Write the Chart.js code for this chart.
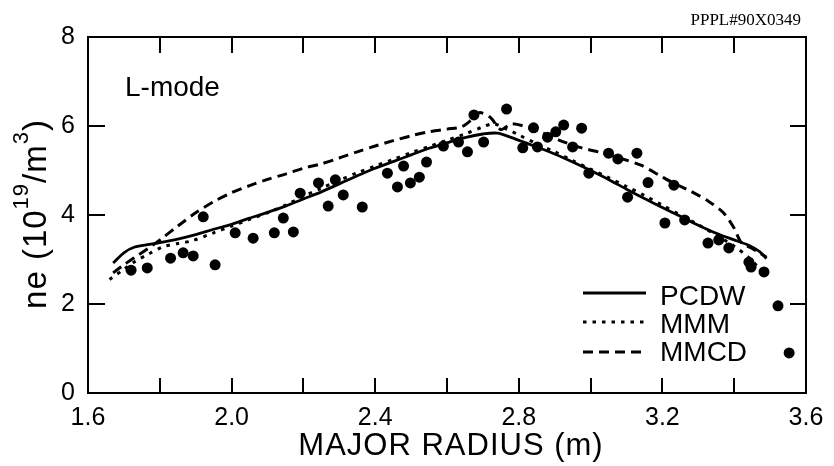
<!DOCTYPE html>
<html>
<head>
<meta charset="utf-8">
<script src="https://cdn.jsdelivr.net/npm/chart.js@4.4.0/dist/chart.umd.min.js"></script>
<style>
  html, body { margin: 0; padding: 0; background: #fff; }
  #wrap { width: 834px; height: 466px; }
</style>
</head>
<body>
<div id="wrap"><canvas id="c" width="834" height="466"></canvas></div>
<script>
// ---- data ----
const seriesNames = ['PCDW', 'MMM', 'MMCD'];

const pcdwR  = [1.67,1.70,1.73,1.77,1.80,1.85,1.90,1.95,2.00,2.05,2.10,2.15,2.20,2.25,2.30,2.35,2.40,2.45,2.50,2.55,2.60,2.65,2.70,2.74,2.78,2.82,2.86,2.90,2.95,3.00,3.05,3.10,3.15,3.20,3.25,3.30,3.35,3.40,3.44,3.47,3.49];
const pcdwNe = [2.92,3.15,3.28,3.34,3.38,3.46,3.56,3.68,3.79,3.93,4.06,4.20,4.36,4.52,4.70,4.88,5.05,5.20,5.35,5.50,5.62,5.74,5.82,5.84,5.74,5.62,5.50,5.37,5.19,5.00,4.80,4.58,4.37,4.17,3.97,3.77,3.59,3.44,3.32,3.18,3.02];

const mmmR  = [1.66,1.70,1.73,1.77,1.81,1.85,1.89,1.95,2.00,2.05,2.10,2.15,2.20,2.25,2.30,2.35,2.40,2.45,2.50,2.55,2.60,2.65,2.70,2.73,2.76,2.80,2.85,2.90,2.95,3.00,3.05,3.10,3.15,3.20,3.25,3.30,3.35,3.40,3.44,3.47];
const mmmNe = [2.55,2.78,2.95,3.13,3.29,3.36,3.42,3.60,3.75,3.90,4.05,4.22,4.42,4.60,4.78,4.95,5.10,5.25,5.40,5.54,5.68,5.82,5.98,6.05,5.95,5.80,5.60,5.42,5.22,5.03,4.84,4.64,4.44,4.22,4.00,3.78,3.55,3.30,3.05,2.80];

const mmcdR  = [1.67,1.70,1.74,1.78,1.81,1.85,1.90,1.95,2.00,2.05,2.10,2.15,2.20,2.25,2.30,2.35,2.40,2.45,2.50,2.55,2.60,2.64,2.67,2.69,2.72,2.75,2.78,2.85,2.91,2.97,3.03,3.08,3.14,3.19,3.23,3.28,3.33,3.37,3.40,3.42,3.45,3.47,3.49];
const mmcdNe = [2.70,2.88,3.10,3.32,3.50,3.75,4.05,4.30,4.50,4.66,4.80,4.92,5.05,5.15,5.28,5.42,5.55,5.67,5.78,5.87,5.93,5.98,6.15,6.30,6.20,5.92,6.05,5.90,5.69,5.52,5.40,5.28,5.12,4.90,4.72,4.53,4.30,4.05,3.70,3.38,3.25,3.15,3.05];

const measR  = [1.72,1.765,1.83,1.865,1.893,1.954,1.921,2.01,2.06,2.119,2.172,2.144,2.191,2.242,2.269,2.311,2.289,2.364,2.434,2.462,2.498,2.523,2.479,2.543,2.59,2.632,2.657,2.675,2.702,2.766,2.811,2.852,2.841,2.88,2.903,2.925,2.95,2.975,2.995,3.05,3.076,3.103,3.129,3.16,3.232,3.207,3.262,3.327,3.357,3.385,3.441,3.447,3.483,3.522,3.553];
const measNe = [2.76,2.81,3.03,3.15,3.08,2.88,3.96,3.60,3.48,3.60,3.62,3.93,4.49,4.72,4.20,4.45,4.79,4.18,4.94,4.63,4.72,4.85,5.10,5.19,5.55,5.64,5.42,6.25,5.64,6.38,5.51,5.53,5.96,5.75,5.87,6.02,5.53,5.95,4.94,5.39,5.26,4.40,5.39,4.73,4.67,3.82,3.89,3.37,3.44,3.26,2.94,2.83,2.72,1.96,0.90];

const xMin = 1.6, xMax = 3.6, xStep = 0.2;
const yMin = 0, yMax = 8, yStep = 2;
const xTickLabels = ['1.6','2.0','2.4','2.8','3.2','3.6'];
const yTickLabels = ['0','2','4','6','8'];

const xTitle = 'MAJOR RADIUS (m)';
const plotLabel = 'L-mode';
const figId = 'PPPL#90X0349';

// ---- build ----
const zip = (a, b) => a.map((v, i) => ({ x: v, y: b[i] }));
const FONT = '"Liberation Sans", Arial, Helvetica, sans-serif';

const lineStyles = [
  { borderWidth: 2.8, borderDash: [] },
  { borderWidth: 3, borderDash: [3.5, 6] },
  { borderWidth: 3, borderDash: [10, 6] }
];

const datasets = [
  { label: seriesNames[0], data: zip(pcdwR, pcdwNe) },
  { label: seriesNames[1], data: zip(mmmR, mmmNe) },
  { label: seriesNames[2], data: zip(mmcdR, mmcdNe) }
].map((d, i) => Object.assign(d, {
  showLine: true, pointRadius: 0, borderColor: '#000', backgroundColor: '#000',
  tension: 0.3, borderWidth: lineStyles[i].borderWidth, borderDash: lineStyles[i].borderDash,
  borderCapStyle: 'butt', order: 2
}));
datasets.push({
  label: 'data', data: zip(measR, measNe), showLine: false,
  pointRadius: 5.5, pointBackgroundColor: '#000', pointBorderColor: '#000', pointBorderWidth: 0,
  order: 1
});

const framePlugin = {
  id: 'frame',
  afterDraw(chart) {
    const { ctx, chartArea: a, scales } = chart;
    const xs = scales.x, ys = scales.y;
    ctx.save();
    ctx.strokeStyle = '#000';
    ctx.lineWidth = 2;
    ctx.strokeRect(a.left, a.top, a.right - a.left, a.bottom - a.top);
    // inward tick marks
    ctx.beginPath();
    xs.ticks.forEach(t => {
      if (t.value <= xMin + 1e-6 || t.value >= xMax - 1e-6) return;
      const px = Math.round(xs.getPixelForValue(t.value));
      ctx.moveTo(px, a.bottom); ctx.lineTo(px, a.bottom - 15);
      ctx.moveTo(px, a.top); ctx.lineTo(px, a.top + 16);
    });
    ys.ticks.forEach(t => {
      if (t.value <= yMin + 1e-6 || t.value >= yMax - 1e-6) return;
      const py = Math.round(ys.getPixelForValue(t.value));
      ctx.moveTo(a.left, py); ctx.lineTo(a.left + 17, py);
      ctx.moveTo(a.right, py); ctx.lineTo(a.right - 16, py);
    });
    ctx.stroke();

    ctx.fillStyle = '#000';
    // x title
    ctx.font = '31px ' + FONT;
    ctx.letterSpacing = '1px';
    ctx.textAlign = 'center';
    ctx.textBaseline = 'alphabetic';
    ctx.fillText(xTitle, (a.left + a.right) / 2 + 4, 455);
    ctx.letterSpacing = '0px';
    // L-mode
    ctx.textAlign = 'left';
    ctx.font = '28px ' + FONT;
    ctx.fillText(plotLabel, 125, 96);
    // figure id
    ctx.font = '17px "Liberation Serif", "Times New Roman", serif';
    ctx.textAlign = 'right';
    ctx.fillText(figId, 801, 25);

    // y title, rotated, with superscripts
    const parts = [
      { t: 'ne (10', s: 33, r: 0 },
      { t: '19', s: 22, r: 18 },
      { t: '/m', s: 33, r: 0 },
      { t: '3', s: 22, r: 18 },
      { t: ')', s: 33, r: 0 }
    ];
    ctx.letterSpacing = '1px';
    let total = 0;
    parts.forEach(p => { ctx.font = p.s + 'px ' + FONT; p.w = ctx.measureText(p.t).width; total += p.w; });
    ctx.translate(46, 214);
    ctx.rotate(-Math.PI / 2);
    ctx.textAlign = 'left';
    let u = -total / 2;
    parts.forEach(p => { ctx.font = p.s + 'px ' + FONT; ctx.fillText(p.t, u, -p.r); u += p.w; });
    ctx.restore();

    // legend
    ctx.save();
    ctx.strokeStyle = '#000';
    ctx.fillStyle = '#000';
    const rows = [293, 322, 352];
    const base = [305, 333, 361];
    datasets.slice(0, 3).forEach((d, i) => {
      ctx.beginPath();
      ctx.lineWidth = d.borderWidth;
      ctx.setLineDash(d.borderDash);
      ctx.moveTo(583, rows[i]); ctx.lineTo(646, rows[i]);
      ctx.stroke();
      ctx.setLineDash([]);
      ctx.font = '28px ' + FONT;
      ctx.textAlign = 'left';
      ctx.textBaseline = 'alphabetic';
      ctx.fillText(d.label, 660, base[i]);
    });
    ctx.restore();
  }
};

new Chart(document.getElementById('c'), {
  type: 'scatter',
  data: { datasets },
  options: {
    responsive: false,
    animation: false,
    devicePixelRatio: 1,
    layout: { padding: { left: 0, right: 28, top: 37, bottom: 0 } },
    plugins: { legend: { display: false }, tooltip: { enabled: false } },
    scales: {
      x: {
        type: 'linear', min: xMin, max: xMax,
        grid: { display: false, drawTicks: false },
        border: { display: false },
        ticks: {
          stepSize: xStep, autoSkip: false, maxRotation: 0, color: '#000', padding: 10,
          font: { family: FONT, size: 25 },
          callback: v => { const s = (Math.round(v * 10) / 10).toFixed(1); return xTickLabels.includes(s) ? s : ''; }
        },
        afterFit: s => { s.height = 73; }
      },
      y: {
        type: 'linear', min: yMin, max: yMax,
        grid: { display: false, drawTicks: false },
        border: { display: false },
        ticks: {
          stepSize: yStep, color: '#000', padding: 13,
          font: { family: FONT, size: 25 },
          callback: v => { const s = String(Math.round(v)); return yTickLabels.includes(s) ? s : ''; }
        },
        afterFit: s => { s.width = 88; }
      }
    }
  },
  plugins: [framePlugin]
});
</script>
</body>
</html>
